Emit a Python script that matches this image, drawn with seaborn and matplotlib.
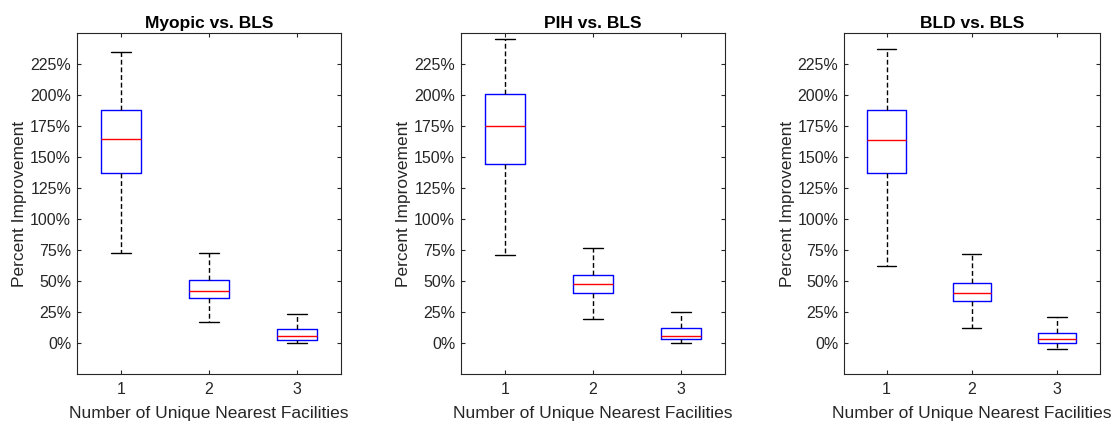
import matplotlib
matplotlib.use("Agg")
import matplotlib.pyplot as plt
import seaborn as sns
import pandas as pd
import numpy as np

sns.set_style("ticks")
plt.rcParams['font.family'] = ['Liberation Sans', 'DejaVu Sans']

titles = ["Myopic vs. BLS", "PIH vs. BLS", "BLD vs. BLS"]
categories = ["1", "2", "3"]
# five-number summaries per category: [min, q1, median, q3, max] (percent)
myopic = [[73.0, 137.2, 164.4, 187.8, 235.2],
          [17.0, 36.6, 42.3, 50.9, 72.5],
          [0.0, 2.2, 5.9, 11.6, 23.4]]
pih = [[71.4, 144.2, 175.4, 200.8, 245.5],
       [19.4, 40.7, 47.4, 55.2, 76.8],
       [0.0, 3.0, 5.9, 12.1, 25.3]]
bld = [[62.5, 137.4, 164.1, 188.1, 237.4],
       [12.4, 33.7, 40.2, 48.8, 71.7],
       [-5.1, 0.0, 3.2, 8.4, 21.0]]
panels = [myopic, pih, bld]
ytick_values = [0, 25, 50, 75, 100, 125, 150, 175, 200, 225]
ytick_labels = ["0%", "25%", "50%", "75%", "100%", "125%", "150%", "175%", "200%", "225%"]
xlabel = "Number of Unique Nearest Facilities"
ylabel = "Percent Improvement"

W, H = 1112, 421
fig = plt.figure(figsize=(W / 100, H / 100), dpi=100)
ax_px = [(76.7, 341.0), (460.7, 725.0), (844.0, 1099.7)]
top_px, bot_px = 33.3, 374.0
txt = "#262626"

for (l, r), title, summ in zip(ax_px, titles, panels):
    ax = fig.add_axes([l / W, (H - bot_px) / H, (r - l) / W, (bot_px - top_px) / H])
    rows = []
    for cat, vals in zip(categories, summ):
        for v in vals:
            rows.append({"k": cat, "val": v})
    df = pd.DataFrame(rows)
    sns.boxplot(data=df, x="k", y="val", order=categories, ax=ax,
                whis=(0, 100), width=0.45, fill=False, showfliers=False,
                linewidth=1.0,
                boxprops=dict(color="#0000ff", linewidth=1.0),
                medianprops=dict(color="#ff0000", linewidth=1.0),
                whiskerprops=dict(color="#000000", linewidth=1.0, linestyle=(0, (3.5, 2))),
                capprops=dict(color="#000000", linewidth=1.0))
    ax.set_xlim(-0.5, 2.5)
    ax.set_ylim(-25, 250)
    ax.set_yticks(ytick_values)
    ax.set_yticklabels(ytick_labels)
    ax.set_xticks(range(len(categories)))
    ax.set_xticklabels(categories)
    ax.set_title(title, fontsize=12.5, fontweight="bold", color="black", pad=4)
    ax.set_xlabel(xlabel, fontsize=12.5, color=txt, labelpad=6)
    ax.set_ylabel(ylabel, fontsize=12.5, color=txt, labelpad=2)
    ax.tick_params(axis="x", pad=6)
    ax.tick_params(axis="y", pad=4)
    ax.tick_params(direction="in", length=3, width=0.8, colors=txt, labelsize=11.5,
                   top=True, right=True)
    for s in ax.spines.values():
        s.set_visible(True)
        s.set_color(txt)
        s.set_linewidth(0.8)

fig.savefig("out.png", dpi=100)
